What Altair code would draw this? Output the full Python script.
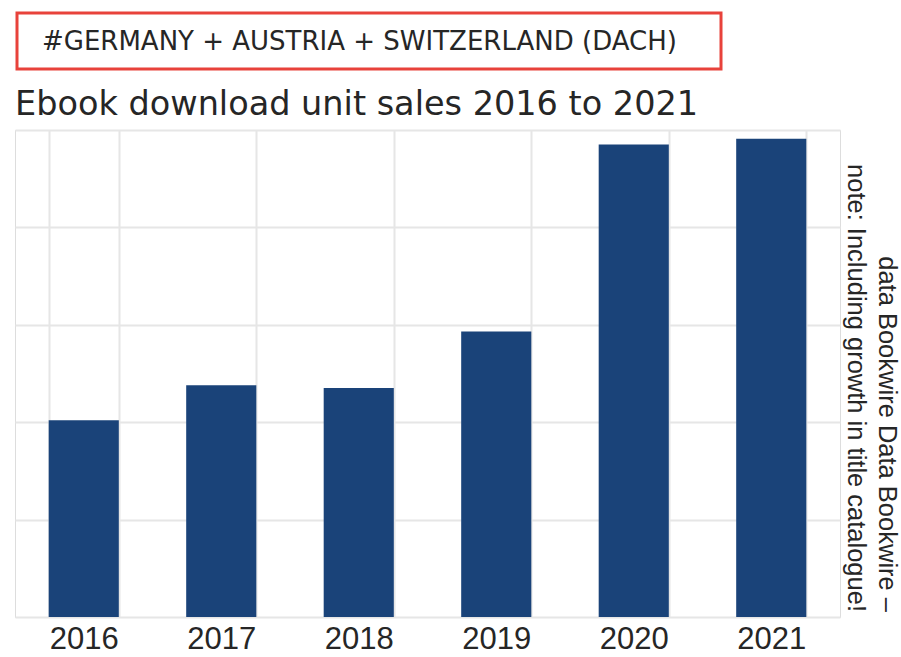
import altair as alt
import pandas as pd

years = ["2016", "2017", "2018", "2019", "2020", "2021"]
units = [2.02, 2.38, 2.35, 2.93, 4.85, 4.91]
y_ticks = [0, 1, 2, 3, 4, 5]

box_label = "#GERMANY + AUSTRIA + SWITZERLAND (DACH)"
title_text = "Ebook download unit sales 2016 to 2021"
note_lines = ["data Bookwire Data Bookwire \u2013", "note: Including growth in title catalogue!"]

df = pd.DataFrame({"year": years, "units": units})
one = alt.Data(values=[{"k": 1}])

GRID = "#e6e6e6"
TEXT = "#262626"
BAR = "#1a4379"

bars = alt.Chart(df).mark_bar(color=BAR).encode(
    x=alt.X("year:N", sort=years,
            scale=alt.Scale(paddingInner=0.49, paddingOuter=0.245),
            axis=alt.Axis(title=None, labelAngle=0, grid=True, tickBand="extent",
                          ticks=False, tickSize=0, domain=False,
                          gridColor=GRID, gridWidth=2,
                          labelFont="Liberation Sans", labelFontSize=31,
                          labelColor=TEXT, labelPadding=7)),
    y=alt.Y("units:Q", scale=alt.Scale(domain=[0, 5], nice=False),
            axis=alt.Axis(title=None, values=y_ticks, labels=False, ticks=False,
                          tickSize=0, domain=False, grid=True,
                          gridColor=GRID, gridWidth=2)),
)

box = alt.Chart(one).mark_rect(fill=None, stroke="#e8423b", strokeWidth=3).encode(
    x=alt.value(2), x2=alt.value(706), y=alt.value(-117), y2=alt.value(-61)
)
box_txt = alt.Chart(one).mark_text(
    align="left", baseline="middle", font="DejaVu Sans", fontSize=26, color=TEXT
).encode(x=alt.value(27), y=alt.value(-88), text=alt.value(box_label))

title = alt.Chart(one).mark_text(
    align="left", baseline="alphabetic", font="DejaVu Sans", fontSize=33.5, color=TEXT
).encode(x=alt.value(0), y=alt.value(-15), text=alt.value(title_text))

note = alt.Chart(one).mark_text(
    align="right", baseline="alphabetic", angle=90, font="Liberation Sans",
    fontSize=25.5, lineHeight=31, color=TEXT
).encode(x=alt.value(864), y=alt.value(482), text=alt.value(note_lines))

chart = alt.layer(bars, box, box_txt, title, note).properties(
    width=825, height=487,
    autosize=alt.AutoSizeParams(type="none"),
    padding={"left": 15, "top": 130, "right": 61, "bottom": 40},
).configure_view(stroke=None).configure(background="white")

chart.save("out.html", embed_options={"renderer": "svg", "actions": False})
